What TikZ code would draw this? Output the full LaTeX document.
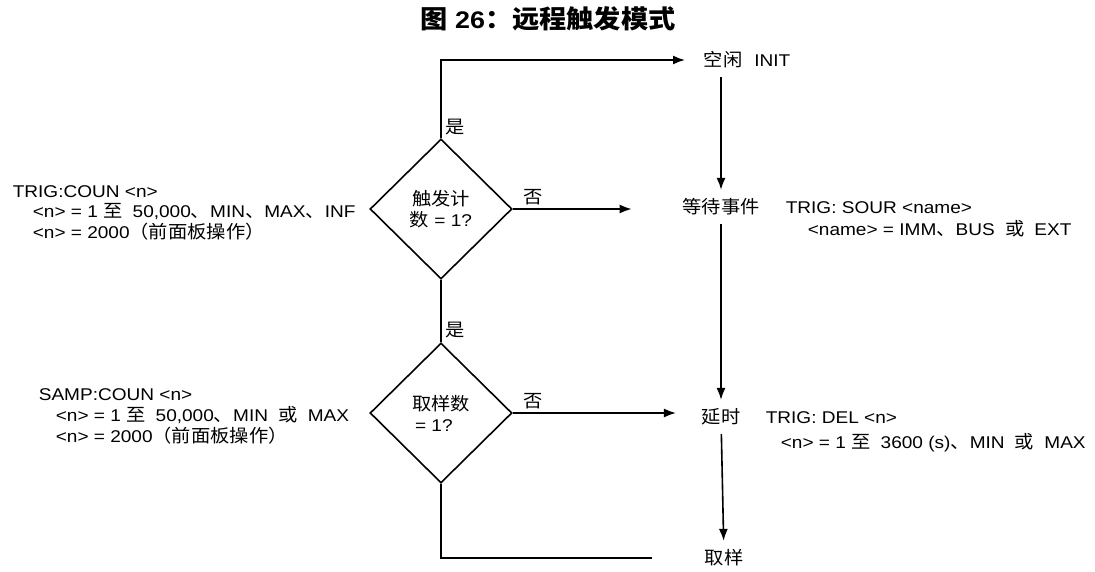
\documentclass[tikz,border=0pt]{standalone}
\usepackage{fontspec}
\setmainfont{Liberation Sans}[FakeStretch=1.12]
\newfontfamily\cjk{Noto Sans CJK SC}[Scale=1.06,FakeStretch=1.07]
\newcommand{\zh}[1]{{\cjk #1}}
\newcommand{\zhgap}{\hspace{0.6em}}
\usetikzlibrary{shapes.geometric}
\usetikzlibrary{arrows.meta}
\tikzset{
  font={\fontsize{17pt}{21pt}\selectfont}}

\begin{document}
\begin{tikzpicture}[x=1pt, y=-1pt, line width=1.6pt]
    \useasboundingbox (0,0) rectangle (1095,571);

    \tikzset{edge/.style = {->, > = {Latex[length=12pt,width=9pt]}}}
    \tikzset{test/.style = {diamond, draw=black, minimum width=142pt, minimum height=140pt, inner sep=0pt, align=center}}
    \tikzset{state/.style = {inner xsep=0pt, inner ysep=8pt}}
    \tikzset{note/.style = {anchor=base west, inner sep=0pt, align=left}}

    % title
    \node (title) at (548,19) {\fontsize{24pt}{24pt}\selectfont\bfseries\zh{图}~26\zh{：远程触发模式}};

    % vertices
    \node[test] (dcount) at (441,209) {\zh{触发计}\\\zh{数}~=~1?};
    \node[test, align=left] (dsamp) at (441,413) {\zh{取样数}\\\hspace*{3pt}= 1?};
    \node[state, anchor=west] (init) at (703,60) {\zh{空闲}\hspace{0.7em}INIT};
    \node[state] (wait) at (721,207) {\zh{等待事件}};
    \node[state] (delay) at (721,417) {\zh{延时}};
    \node[state] (sample) at (724,558) {\zh{取样}};
    \coordinate (back) at (652,558);

    % settings (base = last line)
    \node[note, font={\fontsize{17pt}{20.5pt}\selectfont}] (trigcoun) at (12,238) {TRIG:COUN <n>\\\hspace*{20pt}<n> = 1 \zh{至}\zhgap 50,000\zh{、}MIN\zh{、}MAX\zh{、}INF\\\hspace*{20pt}<n> = 2000\zh{（前面板操作）}};
    \node[note] (sampcoun) at (38,442) {SAMP:COUN <n>\\\hspace*{17pt}<n> = 1 \zh{至}\zhgap 50,000\zh{、}MIN\zhgap\zh{或}\zhgap MAX\\\hspace*{17pt}<n> = 2000\zh{（前面板操作）}};
    \node[note, font={\fontsize{17pt}{22pt}\selectfont}] (trigsour) at (785,235) {TRIG: SOUR <name>\\\hspace*{22pt}<name> = IMM\zh{、}BUS\zhgap\zh{或}\zhgap EXT};
    \node[note, font={\fontsize{17pt}{25pt}\selectfont}] (trigdel) at (765,448) {TRIG: DEL <n>\\\hspace*{15pt}<n> = 1 \zh{至}\zhgap 3600 (s)\zh{、}MIN\zhgap\zh{或}\zhgap MAX};

    %edges
    \draw[edge, shorten >=18pt] (dcount.north) |- node [pos=0.07, right] {\zh{是}} (init.west);
    \draw[edge, shorten >=50pt] (dcount.east) -- node [pos=0.12, above] {\zh{否}} (dcount.east -| wait.west);
    \draw (dcount.south) -- node [pos=0.8, right] {\zh{是}} (dsamp.north);
    \draw[edge, shorten >=25pt] (dsamp.east) -- node [pos=0.11, above] {\zh{否}} (dsamp.east -| delay.west);
    \draw (dsamp.south) |- (back);
    \draw[edge] (init.south -| wait.north) -- (wait.north);
    \draw[edge] (wait) -- (delay);
    \draw[edge] (delay) -- (sample);

\end{tikzpicture}
\end{document}
